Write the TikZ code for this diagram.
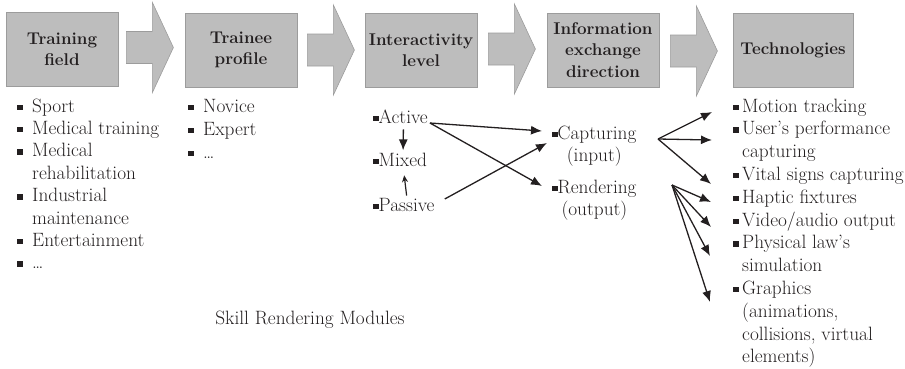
\documentclass[tikz,border=0pt]{standalone}
\usetikzlibrary{arrows.meta,calc}
\definecolor{boxgray}{HTML}{BDBDBD}
\definecolor{boxline}{HTML}{9C9C9C}
\definecolor{ink}{HTML}{231F20}
% square list bullet, with and without a gap after it
\newcommand\sqb{{\color{ink}\rule[2pt]{5.5pt}{5.5pt}}}
\newcommand\bul{\makebox[15pt][l]{\sqb}}
\newcommand\tbul{\makebox[9pt][l]{\sqb}}
% stacked lines whose baseline is the first line
\newcommand\rows[2]{\begin{tabular}[t]{@{}#1@{}}#2\end{tabular}}
\tikzset{
  x=1pt, y=-1pt,
  stage/.style={draw=boxline, line width=0.8pt, fill=boxgray, minimum height=74pt,
    inner sep=0pt, align=center, text=ink,
    font=\fontsize{17}{21.5}\selectfont\bfseries},
  listtext/.style={inner sep=0pt, anchor=base west, text=ink},
  body/.style={font=\fontsize{19.3}{22.4}\selectfont},
  link/.style={draw=ink, line width=1.3pt, -{Latex[length=11pt,width=9pt]}},
  thin link/.style={draw=ink, line width=1.2pt, -{Stealth[length=7pt,width=6pt]}},
  blockarrow/.pic={
    \path[draw=boxline, fill=boxgray, line width=0.6pt]
      (0,-16) -- (26,-16) -- (26,-45) -- (47,0) -- (26,45) -- (26,16) -- (0,16) -- cycle;
  }
}
\begin{document}
\begin{tikzpicture}
\useasboundingbox (0,0) rectangle (905,368);

% stage boxes
\node[stage, minimum width=112pt] (b1) at (62,49.5) {Training\\field};
\node[stage, minimum width=112pt] (b2) at (241,50) {Trainee\\profile};
\node[stage, minimum width=112pt] (b3) at (421,50) {Interactivity\\level};
\node[stage, minimum width=112pt] (b4) at (603,50) {Information\\exchange\\direction};
\node[stage, minimum width=120pt] (b5) at (793,50.5) {Technologies};

% block arrows between the stages
\pic at ($(b1.east)+(8,-2)$) {blockarrow};
\pic at ($(b2.east)+(10,0)$) {blockarrow};
\pic at ($(b3.east)+(11,-1)$) {blockarrow};
\pic at ($(b4.east)+(11,1)$) {blockarrow};

% training fields
\node[listtext, body] (fields) at (17,112)
  {\rows{l}{\bul Sport\\
   \bul Medical training\\
   \bul Medical\\
   \hspace*{15pt}rehabilitation\\
   \bul Industrial\\
   \hspace*{15pt}maintenance\\
   \bul Entertainment\\
   \bul \ldots}};

% trainee profiles
\node[listtext, font=\fontsize{19.3}{23}\selectfont] (profiles) at (188,112)
  {\rows{l}{\bul Novice\\
   \bul Expert\\
   \bul \ldots}};

% interactivity levels
\node[listtext, body] (act) at (373,123) {\sqb Active};
\node[listtext, body] (mix) at (373,166) {\sqb Mixed};
\node[listtext, body] (pas) at (373,211) {\sqb Passive};

% information exchange directions
\node[listtext, body] (cap) at (552,139) {\rows{c}{\sqb Capturing\\(input)}};
\node[listtext, body] (ren) at (552,193) {\rows{c}{\sqb Rendering\\(output)}};

% technologies
\node[listtext, font=\fontsize{19.3}{22.8}\selectfont] (tech) at (733,112)
  {\rows{l}{\tbul Motion tracking\\
   \tbul User's performance\\
   \hspace*{9pt}capturing\\
   \tbul Vital signs capturing\\
   \tbul Haptic fixtures\\
   \tbul Video/audio output\\
   \tbul Physical law's\\
   \hspace*{9pt}simulation\\
   \tbul Graphics\\
   \hspace*{9pt}(animations,\\
   \hspace*{9pt}collisions, virtual\\
   \hspace*{9pt}elements)}};

% caption
\node[body, text=ink, inner sep=0pt] (caption) at (310,320) {Skill Rendering Modules};

% level relations
\draw[link, shorten <=6pt, shorten >=2pt] ([xshift=3pt]act.south) -- ([xshift=3pt]mix.north);
\draw[thin link, shorten <=2pt, shorten >=9pt] ([xshift=3pt]pas.north) -- ([xshift=3pt]mix.south);
\draw[link] ([xshift=2pt]act.base east) -- ($(cap.base west)+(-10,-8)$);
\draw[link] ([xshift=2pt]act.base east) -- ($(ren.base west)+(-10,-7)$);
\draw[link] ($(pas.base east)+(10,-12)$) -- ($(cap.base west)+(-5,4)$);

% fan-out towards the technologies
\coordinate (hubA) at (658,139);
\coordinate (hubB) at (672,185);
\draw[link] (hubA) -- ($(tech.base west)+(-21,0)$);
\draw[link] (hubA) -- ($(tech.base west)+(-21,28)$);
\draw[link] (hubA) -- ($(tech.base west)+(-22,72)$);
\draw[link] (hubB) -- ($(tech.base west)+(-22,90)$);
\draw[link] (hubB) -- ($(tech.base west)+(-22,115)$);
\draw[link] (hubB) -- ($(tech.base west)+(-23,144)$);
\draw[link] (hubB) -- ($(tech.base west)+(-23,190)$);
\end{tikzpicture}
\end{document}
